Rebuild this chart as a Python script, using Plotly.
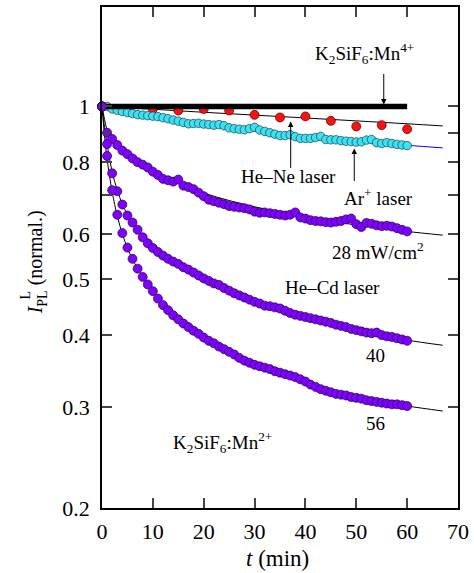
import math
import plotly.graph_objects as go

# ---------------- data ----------------
t_min = list(range(61))

p28 = [1.000, 0.900, 0.878, 0.857, 0.838, 0.826, 0.812, 0.800, 0.792, 0.783,
       0.770, 0.760, 0.748, 0.744, 0.740, 0.746, 0.728, 0.724, 0.718, 0.708,
       0.698, 0.688, 0.684, 0.680, 0.676, 0.671, 0.669, 0.667, 0.665, 0.662,
       0.656, 0.653, 0.654, 0.652, 0.650, 0.648, 0.646, 0.648, 0.654, 0.641,
       0.638, 0.634, 0.632, 0.631, 0.629, 0.628, 0.630, 0.632, 0.636, 0.638,
       0.624, 0.617, 0.627, 0.625, 0.621, 0.619, 0.620, 0.618, 0.614, 0.610,
       0.606]

p40 = [1.000, 0.860, 0.765, 0.712, 0.675, 0.646, 0.628, 0.610, 0.592, 0.578,
       0.567, 0.558, 0.550, 0.543, 0.537, 0.532, 0.525, 0.520, 0.514, 0.508,
       0.502, 0.497, 0.492, 0.489, 0.483, 0.478, 0.473, 0.469, 0.465, 0.461,
       0.457, 0.454, 0.450, 0.449, 0.447, 0.445, 0.441, 0.437, 0.434, 0.432,
       0.430, 0.428, 0.426, 0.424, 0.422, 0.420, 0.417, 0.415, 0.413, 0.410,
       0.408, 0.406, 0.404, 0.403, 0.404, 0.400, 0.398, 0.397, 0.395, 0.393,
       0.391]

p56 = [1.000, 0.820, 0.715, 0.648, 0.602, 0.568, 0.543, 0.522, 0.505, 0.490,
       0.477, 0.463, 0.451, 0.442, 0.433, 0.426, 0.419, 0.413, 0.407, 0.402,
       0.396, 0.391, 0.387, 0.382, 0.378, 0.374, 0.370, 0.365, 0.361, 0.358,
       0.355, 0.353, 0.351, 0.349, 0.346, 0.344, 0.342, 0.340, 0.338, 0.335,
       0.332, 0.328, 0.325, 0.322, 0.320, 0.318, 0.316, 0.315, 0.314, 0.312,
       0.311, 0.310, 0.308, 0.307, 0.306, 0.305, 0.304, 0.303, 0.303, 0.302,
       0.301]

ar_laser = [1.000, 1.000, 0.990, 0.985, 0.980, 0.976, 0.972, 0.968, 0.966, 0.964,
            0.962, 0.960, 0.956, 0.952, 0.947, 0.943, 0.938, 0.933, 0.934, 0.935,
            0.932, 0.930, 0.928, 0.930, 0.926, 0.918, 0.915, 0.913, 0.911, 0.915,
            0.920, 0.910, 0.905, 0.900, 0.895, 0.890, 0.890, 0.893, 0.886, 0.880,
            0.880, 0.880, 0.883, 0.887, 0.876, 0.875, 0.875, 0.872, 0.870, 0.869,
            0.867, 0.868, 0.874, 0.876, 0.865, 0.862, 0.865, 0.862, 0.859, 0.857,
            0.855]

hene_t = [0, 5, 10, 15, 20, 25, 30, 35, 40, 45, 50, 55, 60]
hene = [1.000, 0.984, 0.990, 0.984, 0.990, 0.984, 0.967, 0.957, 0.961, 0.944,
        0.923, 0.928, 0.913]

mn4_t = [0, 60]
mn4 = [1.0, 1.0]

# fitted curves
fit_t = [0, 0.5, 1, 2, 3, 4, 5, 6, 8, 10, 12, 15, 20, 25, 30, 35, 40, 45, 50, 55, 60, 67]
fit28 = [1.0, 0.95, 0.91, 0.876, 0.854, 0.837, 0.823, 0.81, 0.789, 0.771, 0.756,
         0.737, 0.707, 0.686, 0.669, 0.655, 0.642, 0.631, 0.622, 0.614, 0.606, 0.597]
fit40 = [1.0, 0.92, 0.86, 0.77, 0.715, 0.676, 0.648, 0.627, 0.595, 0.571, 0.552,
         0.53, 0.502, 0.479, 0.459, 0.443, 0.43, 0.419, 0.409, 0.4, 0.392, 0.384]
fit56 = [1.0, 0.89, 0.81, 0.71, 0.645, 0.6, 0.567, 0.542, 0.505, 0.477, 0.455,
         0.428, 0.397, 0.373, 0.355, 0.342, 0.331, 0.321, 0.313, 0.306, 0.301, 0.295]

fit_lin_t = [0, 10, 20, 30, 40, 50, 60, 67]
fit_hene = [1.0, 0.989, 0.977, 0.966, 0.955, 0.944, 0.933, 0.925]
fit_ar = [1.0, 0.962, 0.932, 0.907, 0.886, 0.869, 0.856, 0.847]

y_ticks = [0.2, 0.3, 0.4, 0.5, 0.6, 0.7, 0.8, 0.9, 1.0]
y_ticktext = ["0.2", "0.3", "0.4", "0.5", "0.6", " ", "0.8", " ", "1"]
x_ticks = [0, 10, 20, 30, 40, 50, 60, 70]

# ---------------- styling ----------------
FONT = "'Liberation Serif', 'Times New Roman', Times, serif"
PURPLE = "#8000ff"
CYAN = "#3fe0f0"
RED = "#ff1010"

fig = go.Figure()

for fv in (fit28, fit40, fit56):
    fig.add_trace(go.Scatter(x=fit_t, y=fv, mode="lines", line=dict(color="black", width=1, shape="spline"),
                             hoverinfo="skip", showlegend=False))
fig.add_trace(go.Scatter(x=fit_lin_t, y=fit_hene, mode="lines", line=dict(color="black", width=1, shape="spline"),
                         showlegend=False))
fig.add_trace(go.Scatter(x=fit_lin_t, y=fit_ar, mode="lines", line=dict(color="#0000ff", width=1, shape="spline"),
                         showlegend=False))

fig.add_trace(go.Scatter(x=hene_t, y=hene, mode="markers",
                         marker=dict(size=9, color=RED, line=dict(color="#400000", width=0.7)),
                         cliponaxis=False, showlegend=False))
fig.add_trace(go.Scatter(x=t_min, y=ar_laser, mode="markers",
                         marker=dict(size=8.5, color=CYAN, line=dict(color="#104050", width=0.7)),
                         cliponaxis=False, showlegend=False))
fig.add_trace(go.Scatter(x=mn4_t, y=mn4, mode="lines", line=dict(color="black", width=5.5),
                         cliponaxis=False, showlegend=False))
for pv in (p28, p40, p56):
    fig.add_trace(go.Scatter(x=t_min, y=pv, mode="markers",
                             marker=dict(size=9, color=PURPLE, line=dict(color="#200040", width=0.7)),
                             cliponaxis=False, showlegend=False))

ann = []
def txt(x, y, s, **kw):
    d = dict(x=x, y=math.log10(y), xref="x", yref="y", text=s, showarrow=False,
             font=dict(family=FONT, size=19, color="black"), xanchor="center", yanchor="middle")
    d.update(kw)
    ann.append(d)

def arrow(x, y, ay):
    ann.append(dict(x=x, y=math.log10(y), xref="x", yref="y", text="", showarrow=True,
                    ax=0, ay=ay, arrowhead=2, arrowsize=1.1, arrowwidth=1, arrowcolor="black", standoff=2))

txt(51.7, 1.236, "K<sub>2</sub>SiF<sub>6</sub>:Mn<sup>4+</sup>")
arrow(55.4, 1.0, -34)
txt(36.6, 0.756, "He–Ne laser")
arrow(37.1, 0.9495, 50)
txt(54.4, 0.696, "Ar<sup>+</sup> laser")
arrow(49.6, 0.852, 36)
txt(54.3, 0.561, "28 mW/cm<sup>2</sup>")
txt(45.3, 0.484, "He–Cd laser")
txt(53.7, 0.369, "40")
txt(53.7, 0.281, "56")
txt(23.7, 0.2604, "K<sub>2</sub>SiF<sub>6</sub>:Mn<sup>2+</sup>")

# axis titles
ann.append(dict(x=-0.183, y=0.49, xref="paper", yref="paper", showarrow=False, textangle=-90,
                text="<i>I</i><sub>PL</sub> (normal.)", font=dict(family=FONT, size=20, color="black"),
                xanchor="center", yanchor="middle"))
ann.append(dict(x=-0.215, y=0.425, xref="paper", yref="paper", showarrow=False, textangle=-90,
                text="L", font=dict(family=FONT, size=14, color="black"),
                xanchor="center", yanchor="middle"))
ann.append(dict(x=0.494, y=-0.101, xref="paper", yref="paper", showarrow=False,
                text="<i>t</i> (min)", font=dict(family=FONT, size=23, color="black"),
                xanchor="center", yanchor="middle"))

fig.update_layout(
    width=474, height=573,
    margin=dict(l=102, r=12, t=5, b=65),
    paper_bgcolor="white", plot_bgcolor="white",
    font=dict(family=FONT, size=20, color="black"),
    annotations=ann,
    showlegend=False,
)
fig.update_xaxes(range=[0, 70], tickvals=x_ticks, ticks="inside", ticklen=10, tickwidth=1.5,
                 showline=True, linewidth=1.5, linecolor="black", mirror="ticks",
                 showgrid=False, zeroline=False, ticklabelstandoff=3,
                 tickfont=dict(family=FONT, size=22, color="black"))
fig.update_yaxes(type="log", range=[math.log10(0.2), math.log10(1.49)], tickvals=y_ticks,
                 ticktext=y_ticktext, ticks="inside", ticklen=10, tickwidth=1.5,
                 showline=True, linewidth=1.5, linecolor="black", mirror="ticks",
                 showgrid=False, zeroline=False, ticklabelstandoff=6,
                 tickfont=dict(family=FONT, size=22, color="black"))

fig.write_html("out.html", config={"displayModeBar": False},
               post_script="document.body.style.margin='0';document.body.style.overflow='hidden';")
